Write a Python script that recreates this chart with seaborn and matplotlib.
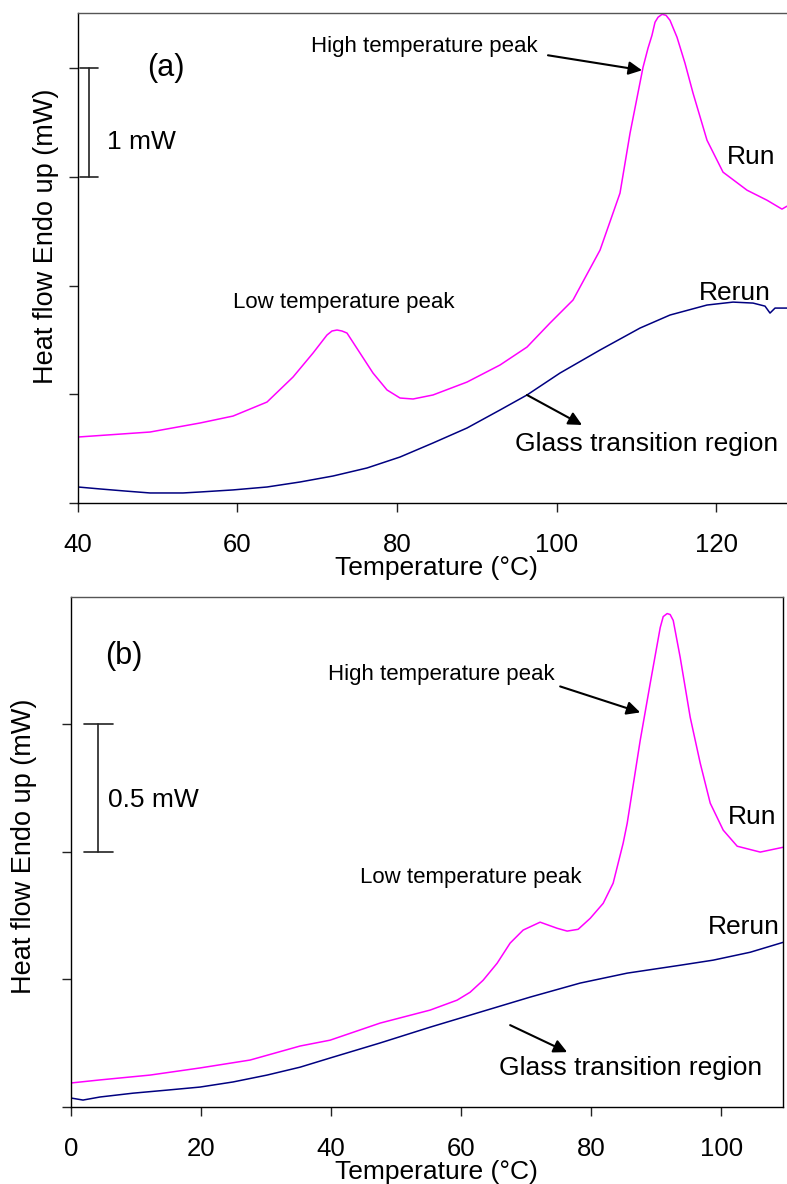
import matplotlib
matplotlib.use("Agg")
import matplotlib.pyplot as plt
import seaborn as sns

# ---- panel (a) data: temperature (C) / heat flow (mW, offset) ----
a_run_t = [40.0, 49.03, 55.30, 59.44, 63.70, 66.96, 69.47, 71.22, 71.85, 72.48, 73.10,
           73.73, 75.36, 76.99, 78.75, 80.38, 82.01, 84.51, 88.78, 92.92, 96.30, 99.18,
           102.07, 105.46, 107.96, 109.22, 110.85, 111.47, 111.97, 112.35, 112.73,
           113.23, 113.73, 114.23, 115.11, 116.11, 117.12, 118.87, 120.88, 123.89,
           126.39, 128.27, 128.90]
a_run_hf = [0.607, 0.653, 0.736, 0.800, 0.929, 1.159, 1.380, 1.546, 1.583, 1.592, 1.583,
            1.564, 1.380, 1.196, 1.040, 0.966, 0.957, 0.994, 1.113, 1.270, 1.435, 1.656,
            1.868, 2.328, 2.852, 3.404, 4.011, 4.186, 4.305, 4.425, 4.471,
            4.498, 4.489, 4.443, 4.287, 4.048, 3.772, 3.339, 3.045, 2.879,
            2.787, 2.705, 2.732]
a_rerun_t = [40.0, 42.76, 45.89, 49.03, 53.17, 55.30, 59.44, 63.70, 67.84, 71.97,
             76.24, 80.38, 84.51, 88.78, 92.92, 96.30, 100.44, 105.46, 110.47,
             114.23, 118.87, 122.13, 124.64, 126.14, 126.77, 127.40, 128.90]
a_rerun_hf = [0.147, 0.129, 0.110, 0.092, 0.092, 0.101, 0.120, 0.147, 0.193, 0.248,
              0.322, 0.423, 0.552, 0.690, 0.856, 0.994, 1.196, 1.408, 1.610,
              1.730, 1.822, 1.849, 1.840, 1.812, 1.748, 1.794, 1.794]

# ---- panel (b) data ----
b_run_t = [0.0, 4.46, 12.15, 19.85, 27.54, 35.23, 39.85, 47.54, 55.23, 59.38,
           61.38, 63.38, 65.54, 67.54, 69.54, 72.15, 74.77, 76.31, 78.0, 79.85,
           81.85, 83.38, 84.92, 85.54, 87.54, 89.08, 90.62, 91.08, 91.69, 92.15,
           92.62, 93.69, 95.23, 96.77, 98.31, 100.31, 102.46, 106.0, 109.54]
b_run_hf = [0.093, 0.105, 0.124, 0.152, 0.183, 0.238, 0.261, 0.328, 0.379, 0.418,
            0.449, 0.496, 0.563, 0.642, 0.693, 0.724, 0.700, 0.689, 0.696, 0.739,
            0.798, 0.877, 1.034, 1.112, 1.437, 1.661, 1.880, 1.923, 1.935, 1.931,
            1.908, 1.763, 1.528, 1.348, 1.191, 1.085, 1.022, 0.999, 1.018]
b_rerun_t = [0.0, 1.85, 4.46, 9.54, 14.77, 19.85, 24.92, 30.15, 35.23, 39.85,
             47.54, 55.23, 62.92, 70.62, 78.31, 85.54, 93.69, 98.77, 104.46, 109.54]
b_rerun_hf = [0.034, 0.026, 0.038, 0.053, 0.065, 0.077, 0.097, 0.124, 0.155, 0.191,
              0.250, 0.312, 0.371, 0.430, 0.485, 0.524, 0.555, 0.575, 0.606, 0.645]

a_xticks = [40, 60, 80, 100, 120]
b_xticks = [0, 20, 40, 60, 80, 100]

RUN_C = "#ff00ff"
RERUN_C = "#000080"

sns.set_style("ticks")
plt.rcParams['font.family'] = ['Liberation Sans', 'DejaVu Sans']
plt.rcParams['text.color'] = 'black'
plt.rcParams['axes.labelcolor'] = 'black'

fig = plt.figure(figsize=(7.87, 11.84), dpi=100)
ax1 = fig.add_axes([0.0991, 0.5752, 0.9009, 0.4138])
ax2 = fig.add_axes([0.0902, 0.0653, 0.9047, 0.4305])

sns.lineplot(x=a_run_t, y=a_run_hf, color=RUN_C, linewidth=1.1, ax=ax1)
sns.lineplot(x=a_rerun_t, y=a_rerun_hf, color=RERUN_C, linewidth=1.1, ax=ax1)
sns.lineplot(x=b_run_t, y=b_run_hf, color=RUN_C, linewidth=1.1, ax=ax2)
sns.lineplot(x=b_rerun_t, y=b_rerun_hf, color=RERUN_C, linewidth=1.1, ax=ax2)

ax1.set_xlim(40, 128.9)
ax1.set_ylim(0, 4.51)
ax1.set_xticks(a_xticks)
ax1.set_yticks([0, 1, 2, 3, 4])
ax2.set_xlim(0, 109.5)
ax2.set_ylim(0, 2.0)
ax2.set_xticks(b_xticks)
ax2.set_yticks([0, 0.5, 1.0, 1.5])

for ax in (ax1, ax2):
    ax.set_yticklabels([])
    ax.tick_params(direction='out', length=6.5, width=1, colors='#222222',
                   labelsize=18.5, pad=15, labelcolor='black')
    ax.set_xlabel("Temperature (°C)", fontsize=19)
    ax.set_ylabel("Heat flow Endo up (mW)", fontsize=19.5)
    ax.yaxis.label.set(va='center', ha='center', rotation_mode='anchor')
    for s in ax.spines.values():
        s.set_linewidth(1)
        s.set_color('black')
    ax.spines['top'].set_color('#555555')

ax1.spines['right'].set_visible(False)
ax1.xaxis.set_label_coords(0.506, -0.108)
ax1.yaxis.set_label_coords(-0.045, 0.545)
ax2.xaxis.set_label_coords(0.513, -0.105)
ax2.yaxis.set_label_coords(-0.066, 0.511)

arrow = dict(arrowstyle='-|>', color='black', lw=1.5, mutation_scale=20,
             shrinkA=0, shrinkB=0)

# panel (a) annotations
ax1.text(51.0, 4.0, "(a)", fontsize=22, ha='center', va='center')
ax1.text(83.4, 4.204, "High temperature peak", fontsize=16, ha='center', va='center')
ax1.annotate("", xy=(110.72, 3.983), xytext=(98.93, 4.121), arrowprops=arrow)
ax1.text(73.29, 1.849, "Low temperature peak", fontsize=16, ha='center', va='center')
ax1.text(111.35, 0.543, "Glass transition region", fontsize=19, ha='center', va='center')
ax1.annotate("", xy=(103.2, 0.718), xytext=(96.30, 0.994), arrowprops=arrow)
ax1.text(124.4, 3.183, "Run", fontsize=19, ha='center', va='center')
ax1.text(122.4, 1.932, "Rerun", fontsize=19, ha='center', va='center')
ax1.plot([41.38, 41.38], [3.0, 4.0], color='#222222', lw=1.2, clip_on=False)
ax1.plot([40.25, 42.5], [4.0, 4.0], color='#222222', lw=1.2, clip_on=False)
ax1.plot([40.25, 42.5], [3.0, 3.0], color='#222222', lw=1.2, clip_on=False)
ax1.text(43.64, 3.32, "1 mW", fontsize=19, ha='left', va='center')

# panel (b) annotations
ax2.text(8.15, 1.770, "(b)", fontsize=22, ha='center', va='center')
ax2.text(56.92, 1.696, "High temperature peak", fontsize=16, ha='center', va='center')
ax2.annotate("", xy=(87.54, 1.547), xytext=(75.23, 1.649), arrowprops=arrow)
ax2.text(61.54, 0.900, "Low temperature peak", fontsize=16, ha='center', va='center')
ax2.text(86.08, 0.151, "Glass transition region", fontsize=19, ha='center', va='center')
ax2.annotate("", xy=(76.31, 0.214), xytext=(67.54, 0.320), arrowprops=arrow)
ax2.text(104.7, 1.135, "Run", fontsize=19, ha='center', va='center')
ax2.text(103.4, 0.704, "Rerun", fontsize=19, ha='center', va='center')
ax2.plot([4.15, 4.15], [1.0, 1.5], color='#222222', lw=1.2)
ax2.plot([2.0, 6.46], [1.5, 1.5], color='#222222', lw=1.2)
ax2.plot([2.0, 6.46], [1.0, 1.0], color='#222222', lw=1.2)
ax2.text(5.69, 1.202, "0.5 mW", fontsize=19, ha='left', va='center')

fig.savefig("out.png", dpi=100)
